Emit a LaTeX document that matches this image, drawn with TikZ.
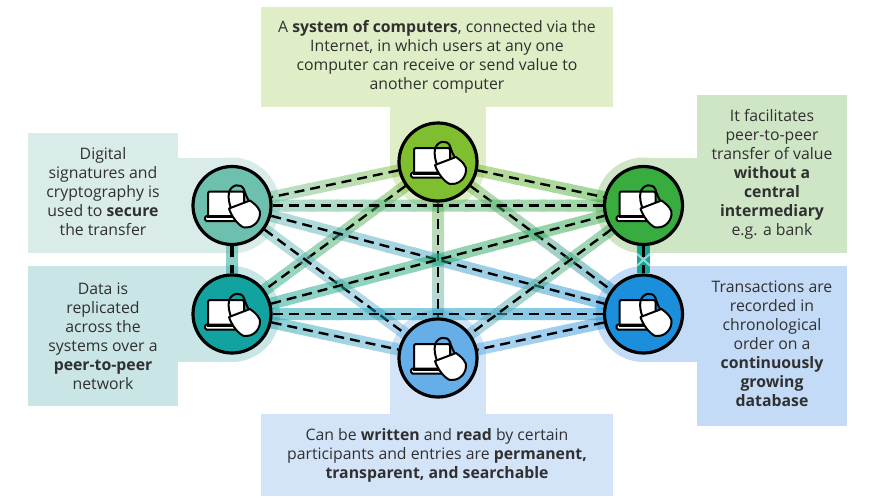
\documentclass[tikz,border=0pt]{standalone}
\usepackage{fontspec}
\setmainfont{Open Sans}
\usetikzlibrary{calc,backgrounds}
\pgfdeclarelayer{boxes}
\pgfsetlayers{boxes,background,main}
% hub colours
\definecolor{ctop}{HTML}{7FBE2E}
\definecolor{clup}{HTML}{6DBFAE}
\definecolor{cllo}{HTML}{12A3A0}
\definecolor{crup}{HTML}{38AC3F}
\definecolor{crlo}{HTML}{1B8FDC}
\definecolor{cbot}{HTML}{66AEE8}
% box colours
\definecolor{btop}{HTML}{DFEEC6}
\definecolor{blup}{HTML}{D9ECE9}
\definecolor{bllo}{HTML}{C9E5E6}
\definecolor{brup}{HTML}{CFE6C6}
\definecolor{brlo}{HTML}{C3DBF6}
\definecolor{bbot}{HTML}{D3E4F9}
\definecolor{inktext}{HTML}{303030}
\tikzset{
  hub/.style={circle,draw=black,line width=3.2pt,minimum size=78pt,inner sep=0pt},
  textbox/.style={inner sep=0pt,align=center,text=inktext,
    font=\fontsize{15.8}{19}\selectfont},
  dashlink/.style={line width=2.4pt,dash pattern=on 10pt off 6pt},
  lockpc/.pic={
    \draw[fill=white,line width=2pt,rounded corners=2pt] (-24,11) -- (-24,-14) -- (12,-14) -- (12,11);
    \draw[fill=white,line width=2pt,rounded corners=1.5pt] (-27,10.5) rectangle (8,15.5);
    \fill (-25,9.5) rectangle (8,12.5);
    \draw[line width=2pt] (-1,3) .. controls (-3,-3) and (-4,-8) .. (-3,-13) .. controls (-1,-21) and (9,-23) .. (12,-16) .. controls (13,-12) and (15,-8) .. (17,-4);
    \draw[fill=white,line width=2pt,line join=round] (-3,3) -- (18,-5) .. controls (25,0) and (29,5) .. (28,9) .. controls (27,18) and (19,23) .. (12,22) .. controls (6,20) and (-1,10) .. cycle;
  }
}
% band between two hubs, colour runs from one hub to the other
\newcommand{\bandlink}[3][.5]{%
  \begin{scope}[transparency group,opacity=#1]
    \foreach \i in {0,...,15} {
      \pgfmathtruncatemacro{\p}{100-(\i+.5)*100/16}
      \draw[line width=12pt,color=c#2!\p!c#3] ($(#2)!{\i/16}!(#3)$) -- ($(#2)!{(\i+1.2)/16}!(#3)$);
    }
  \end{scope}
}
\begin{document}
\begin{tikzpicture}[x=1pt,y=-1pt]
  \useasboundingbox (0,0) rectangle (874,503);
  % hubs
  \node[hub,fill=ctop] (top) at (438,162) {};
  \node[hub,fill=clup] (lup) at (232,205.5) {};
  \node[hub,fill=cllo] (llo) at (232,314) {};
  \node[hub,fill=crup] (rup) at (643.5,205.5) {};
  \node[hub,fill=crlo] (rlo) at (643.5,314) {};
  \node[hub,fill=cbot] (bot) at (438,358) {};
  \foreach \h in {top,lup,llo,rup,rlo,bot}
    \pic at (\h) {lockpc};
  % text boxes
  \begin{pgfonlayer}{boxes}
    \node[textbox,fill=btop,minimum width=352pt,minimum height=100pt] (ttop) at (437,57) {A \textbf{system of computers}, connected via the\\Internet, in which users at any one\\computer can receive or send value to\\another computer};
    \node[textbox,fill=blup,minimum width=150pt,minimum height=120pt] (tlup) at (103,193) {Digital\\signatures and\\cryptography is\\used to \textbf{secure}\\the transfer\\[-15pt]\mbox{}};
    \node[textbox,fill=bllo,minimum width=150pt,minimum height=140pt] (tllo) at (103,336) {Data is\\replicated\\across the\\systems over a\\\textbf{peer-to-peer}\\network};
    \node[textbox,fill=brup,minimum width=150pt,minimum height=158pt] (trup) at (772,174) {It facilitates\\peer-to-peer\\transfer of value\\\textbf{without a}\\\textbf{central}\\\textbf{intermediary}\\e.g. a bank};
    \node[textbox,fill=brlo,minimum width=150pt,minimum height=160pt] (trlo) at (772,346) {Transactions are\\recorded in\\chronological\\order on a\\\textbf{continuously}\\\textbf{growing}\\\textbf{database}\\[-15pt]\mbox{}};
    \node[textbox,fill=bbot,minimum width=352pt,minimum height=82pt] (tbot) at (437,455) {Can be \textbf{written} and \textbf{read} by certain\\participants and entries are \textbf{permanent,}\\\textbf{transparent, and searchable}};
    % halos joining boxes to hubs
    \fill[btop] (top) circle (48);
    \fill[btop] (390,100) rectangle (486,162);
    \fill[bbot] (bot) circle (48);
    \fill[bbot] (390,358) rectangle (486,420);
    \fill[blup] (lup) circle (48);
    \fill[blup] (170,157.5) rectangle (232,253);
    \fill[bllo] (llo) circle (48);
    \fill[bllo] (170,266) rectangle (232,362);
    \fill[brup] (rup) circle (48);
    \fill[brup] (643.5,157.5) rectangle (705,253);
    \fill[brlo] (rlo) circle (48);
    \fill[brlo] (643.5,266) rectangle (705,362);
  \end{pgfonlayer}
  % connectors
  \begin{pgfonlayer}{background}
    \foreach \a/\b in {top/lup,top/rup,top/llo,top/rlo,top/bot,lup/rup,lup/rlo,lup/bot,llo/rup,llo/rlo,llo/bot,rup/bot,rlo/bot} {
      \bandlink{\a}{\b}
      \draw[dashlink] (\a) -- (\b);
    }
    \bandlink[.6]{lup}{llo}
    \draw[dashlink,dash pattern=on 11pt off 8pt,line width=3.2pt] (lup) -- (llo);
    \draw[line width=13pt,color=cllo!90!crup] (rup) -- (rlo);
    % pale cross in the middle of the right band
    \draw[line width=2pt,color=cllo!45!white] ($(rup)!.5!(rlo)+(-6.5,-6)$) -- ($(rup)!.5!(rlo)+(6.5,6)$);
    \draw[line width=2pt,color=cllo!45!white] ($(rup)!.5!(rlo)+(6.5,-6)$) -- ($(rup)!.5!(rlo)+(-6.5,6)$);
    \draw[dashlink,dash pattern=on 11pt off 8pt,line width=3.2pt] (rup) -- (rlo);
  \end{pgfonlayer}
\end{tikzpicture}
\end{document}
